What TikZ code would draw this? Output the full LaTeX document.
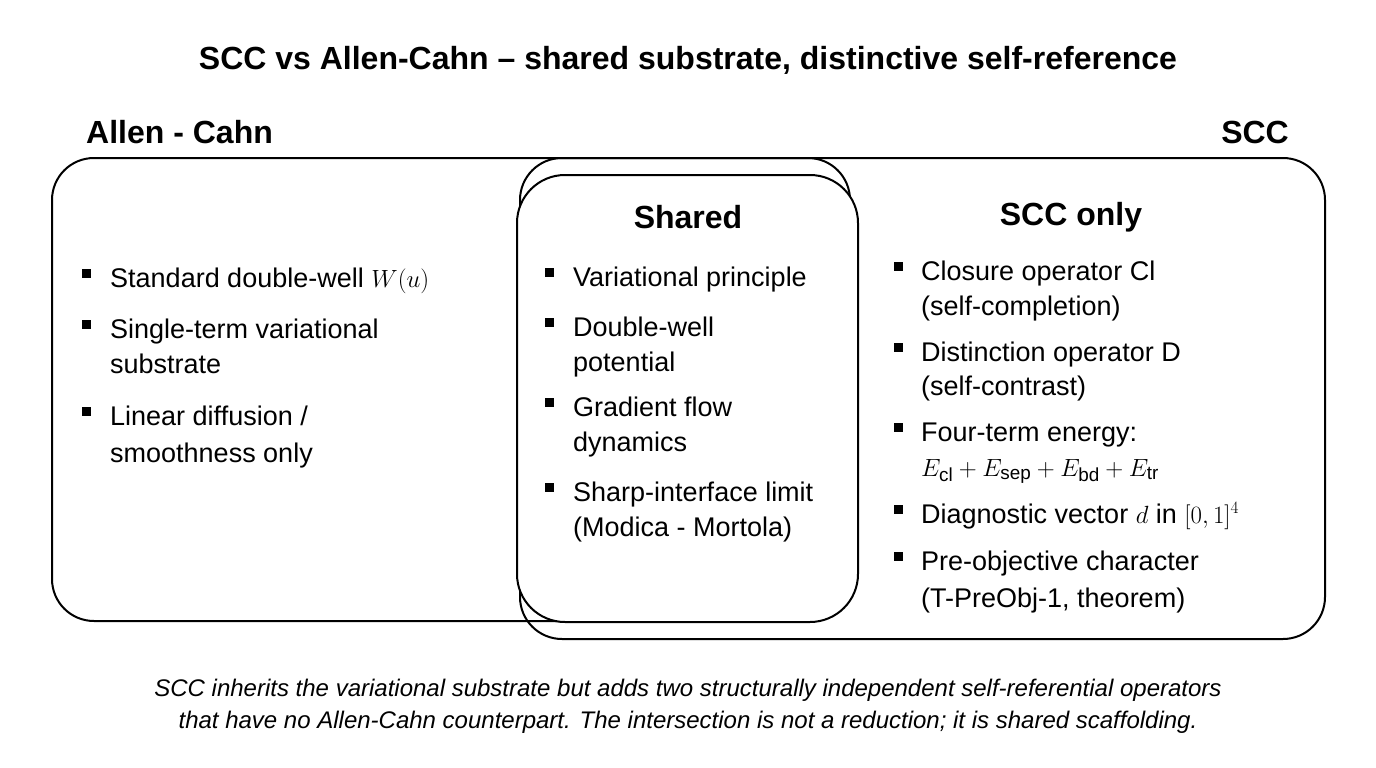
\documentclass[tikz,border=0pt]{standalone}
\usepackage{fontspec}
\setmainfont{Liberation Sans}
\begin{document}
\begin{tikzpicture}[x=1pt,y=-1pt,
  box/.style={draw=black,line width=2pt,rounded corners=42pt},
  bul/.style={fill=black,minimum size=9pt,inner sep=0pt},
  txt/.style={anchor=base west,inner sep=0pt,font=\fontsize{27}{32}\selectfont},
  head/.style={inner sep=0pt,font=\fontsize{32}{36}\selectfont\bfseries},
  captxt/.style={inner sep=0pt,font=\fontsize{24}{28}\selectfont\itshape}]
\useasboundingbox (0,0) rectangle (1376,768);
\fill[white] (0,0) rectangle (1376,768);
\draw[box,fill=white] (520,158) rectangle (1325,639);
\draw[box] (52,158) rectangle (850,621);
\draw[box,fill=white,rounded corners=48pt] (517,175) rectangle (858,622);
\node[head] (title) at (688,60) {SCC vs Allen-Cahn -- shared substrate, distinctive self-reference};
\node[head,anchor=west] (ac) at (86,132) {Allen - Cahn};
\node[head,anchor=east] (scc) at (1289,132) {SCC};
\node[head] (sh) at (688,217) {Shared};
\node[head] (so) at (1071,217) {SCC only};
% left
\node[bul] (b1) at (86,273) {};
\node[txt] (l1) at (110,287) {Standard double-well $W(u)$};
\node[bul] (b2) at (86,324) {};
\node[txt] (l2) at (110,338) {Single-term variational};
\node[txt] (l2b) at (110,373) {substrate};
\node[bul] (b3) at (86,411) {};
\node[txt] (l3) at (110,425) {Linear diffusion /};
\node[txt] (l3b) at (110,462) {smoothness only};
% shared
\node[bul] (s1) at (549,272) {};
\node[txt] (m1) at (573,286) {Variational principle};
\node[bul] (s2) at (549,322) {};
\node[txt] (m2) at (573,336) {Double-well};
\node[txt] (m2b) at (573,371) {potential};
\node[bul] (s3) at (549,402) {};
\node[txt] (m3) at (573,416) {Gradient flow};
\node[txt] (m3b) at (573,451) {dynamics};
\node[bul] (s4) at (549,487) {};
\node[txt] (m4) at (573,501) {Sharp-interface limit};
\node[txt] (m4b) at (573,536) {(Modica - Mortola)};
% scc
\node[bul] (c1) at (898,266) {};
\node[txt] (r1) at (921,280) {Closure operator Cl};
\node[txt] (r1b) at (921,315) {(self-completion)};
\node[bul] (c2) at (898,347) {};
\node[txt] (r2) at (921,361) {Distinction operator D};
\node[txt] (r2b) at (921,395) {(self-contrast)};
\node[bul] (c3) at (898,427) {};
\node[txt] (r3) at (921,441) {Four-term energy:};
\node[txt] (r3b) at (921,476) {$E_{\mathrm{cl}}+E_{\mathrm{sep}}+E_{\mathrm{bd}}+E_{\mathrm{tr}}$};
\node[bul] (c4) at (898,509) {};
\node[txt] (r4) at (921,523) {Diagnostic vector $d$ in $[0,1]^4$};
\node[bul] (c5) at (898,556) {};
\node[txt] (r5) at (921,570) {Pre-objective character};
\node[txt] (r5b) at (921,607) {(T-PreObj-1, theorem)};
\node[captxt] (cap1) at (688,690) {SCC inherits the variational substrate but adds two structurally independent self-referential operators};
\node[captxt] (cap2) at (688,722) {that have no Allen-Cahn counterpart. The intersection is not a reduction; it is shared scaffolding.};
\end{tikzpicture}
\end{document}
